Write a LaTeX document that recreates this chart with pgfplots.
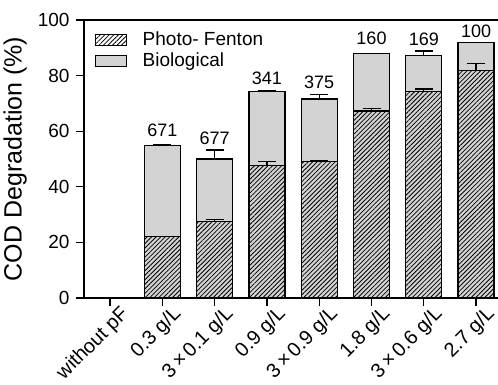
\documentclass[border=0pt]{standalone}
\usepackage{pgfplots}
\pgfplotsset{compat=1.18}
\usepackage{fontspec}
\setmainfont{Liberation Sans}
\usetikzlibrary{patterns.meta}
\definecolor{biogray}{RGB}{211,211,211}
\pgfplotstableread{
x pf pferr tot toterr
1 22.0 0.0 55.0 0.0
2 27.5 0.8 50.0 3.2
3 47.8 1.2 74.2 0.4
4 49.0 0.4 71.6 1.7
5 67.3 0.9 88.0 0.0
6 74.2 1.0 87.1 1.7
7 81.7 2.6 92.0 0.0
}\datatable
\pgfplotstableread{
x y lab
1 60.4 671
2 57.6 677
3 79.1 341
4 77.7 375
5 93.5 160
6 93.2 169
7 96.0 100
}\labtable
\begin{document}
\fontsize{19}{22}\selectfont
\begin{tikzpicture}
\begin{axis}[
  scale only axis, width=414pt, height=278pt,
  xmin=-0.5, xmax=7.42, ymin=0, ymax=100,
  axis x line*=box, axis y line*=left,
  axis line style={line width=1.3pt, black},
  xtick={0,...,7}, xtick pos=left,
  xticklabels={without pF,0.3 g/L,3\,×\,0.1 g/L,0.9 g/L,3\,×\,0.9 g/L,1.8 g/L,3\,×\,0.6 g/L,2.7 g/L},
  ytick={0,20,...,100},
  /pgf/number format/assume math mode=true,
  tick align=outside, major tick length=8pt,
  tick style={line width=1.3pt, black},
  x tick label style={xshift=9pt, yshift=3pt, rotate=45, anchor=north east, inner sep=1pt, font=\fontsize{20}{22}\selectfont},
  y tick label style={font=\fontsize{19}{21}\selectfont},
  ylabel={COD Degradation (\%)},
  ylabel style={font=\fontsize{25}{27}\selectfont, yshift=-2pt},
  legend style={at={(0.025,0.965)}, anchor=north west, draw=none, fill=none,
    font=\fontsize{19}{21}\selectfont, row sep=0pt, column sep=14pt, inner sep=0pt},
  legend cell align=left,
  reverse legend,
  legend image code/.code={\draw[#1, line width=1.2pt] (0pt,-5.5pt) rectangle (31pt,5.5pt);},
  error bars/error bar style={line width=1.3pt, black},
  error bars/error mark options={rotate=90, mark size=9pt, line width=1.3pt, black},
]
\addplot[ybar, bar width=0.69, bar shift=0pt, fill=biogray, draw=black, line width=1.2pt,
  error bars/.cd, y dir=plus, y explicit]
  table[x=x, y=tot, y error=toterr] {\datatable};
\addlegendentry{Biological}
\addplot[ybar, bar width=0.69, bar shift=0pt, draw=black, line width=1.2pt,
  pattern={Lines[angle=45, distance=3.2pt, line width=0.8pt]}, pattern color=black,
  error bars/.cd, y dir=plus, y explicit]
  table[x=x, y=pf, y error=pferr] {\datatable};
\addlegendentry{Photo- Fenton}
\addplot[only marks, mark=none, forget plot, nodes near coords, point meta=explicit symbolic,
  every node near coord/.append style={anchor=center, font=\fontsize{18}{20}\selectfont}]
  table[x=x, y=y, meta=lab] {\labtable};
\end{axis}
\pgfresetboundingbox
\path[use as bounding box] (current axis.south west) ++(-84pt,-86pt) rectangle ([yshift=20pt]current axis.north east);
\end{tikzpicture}
\end{document}
